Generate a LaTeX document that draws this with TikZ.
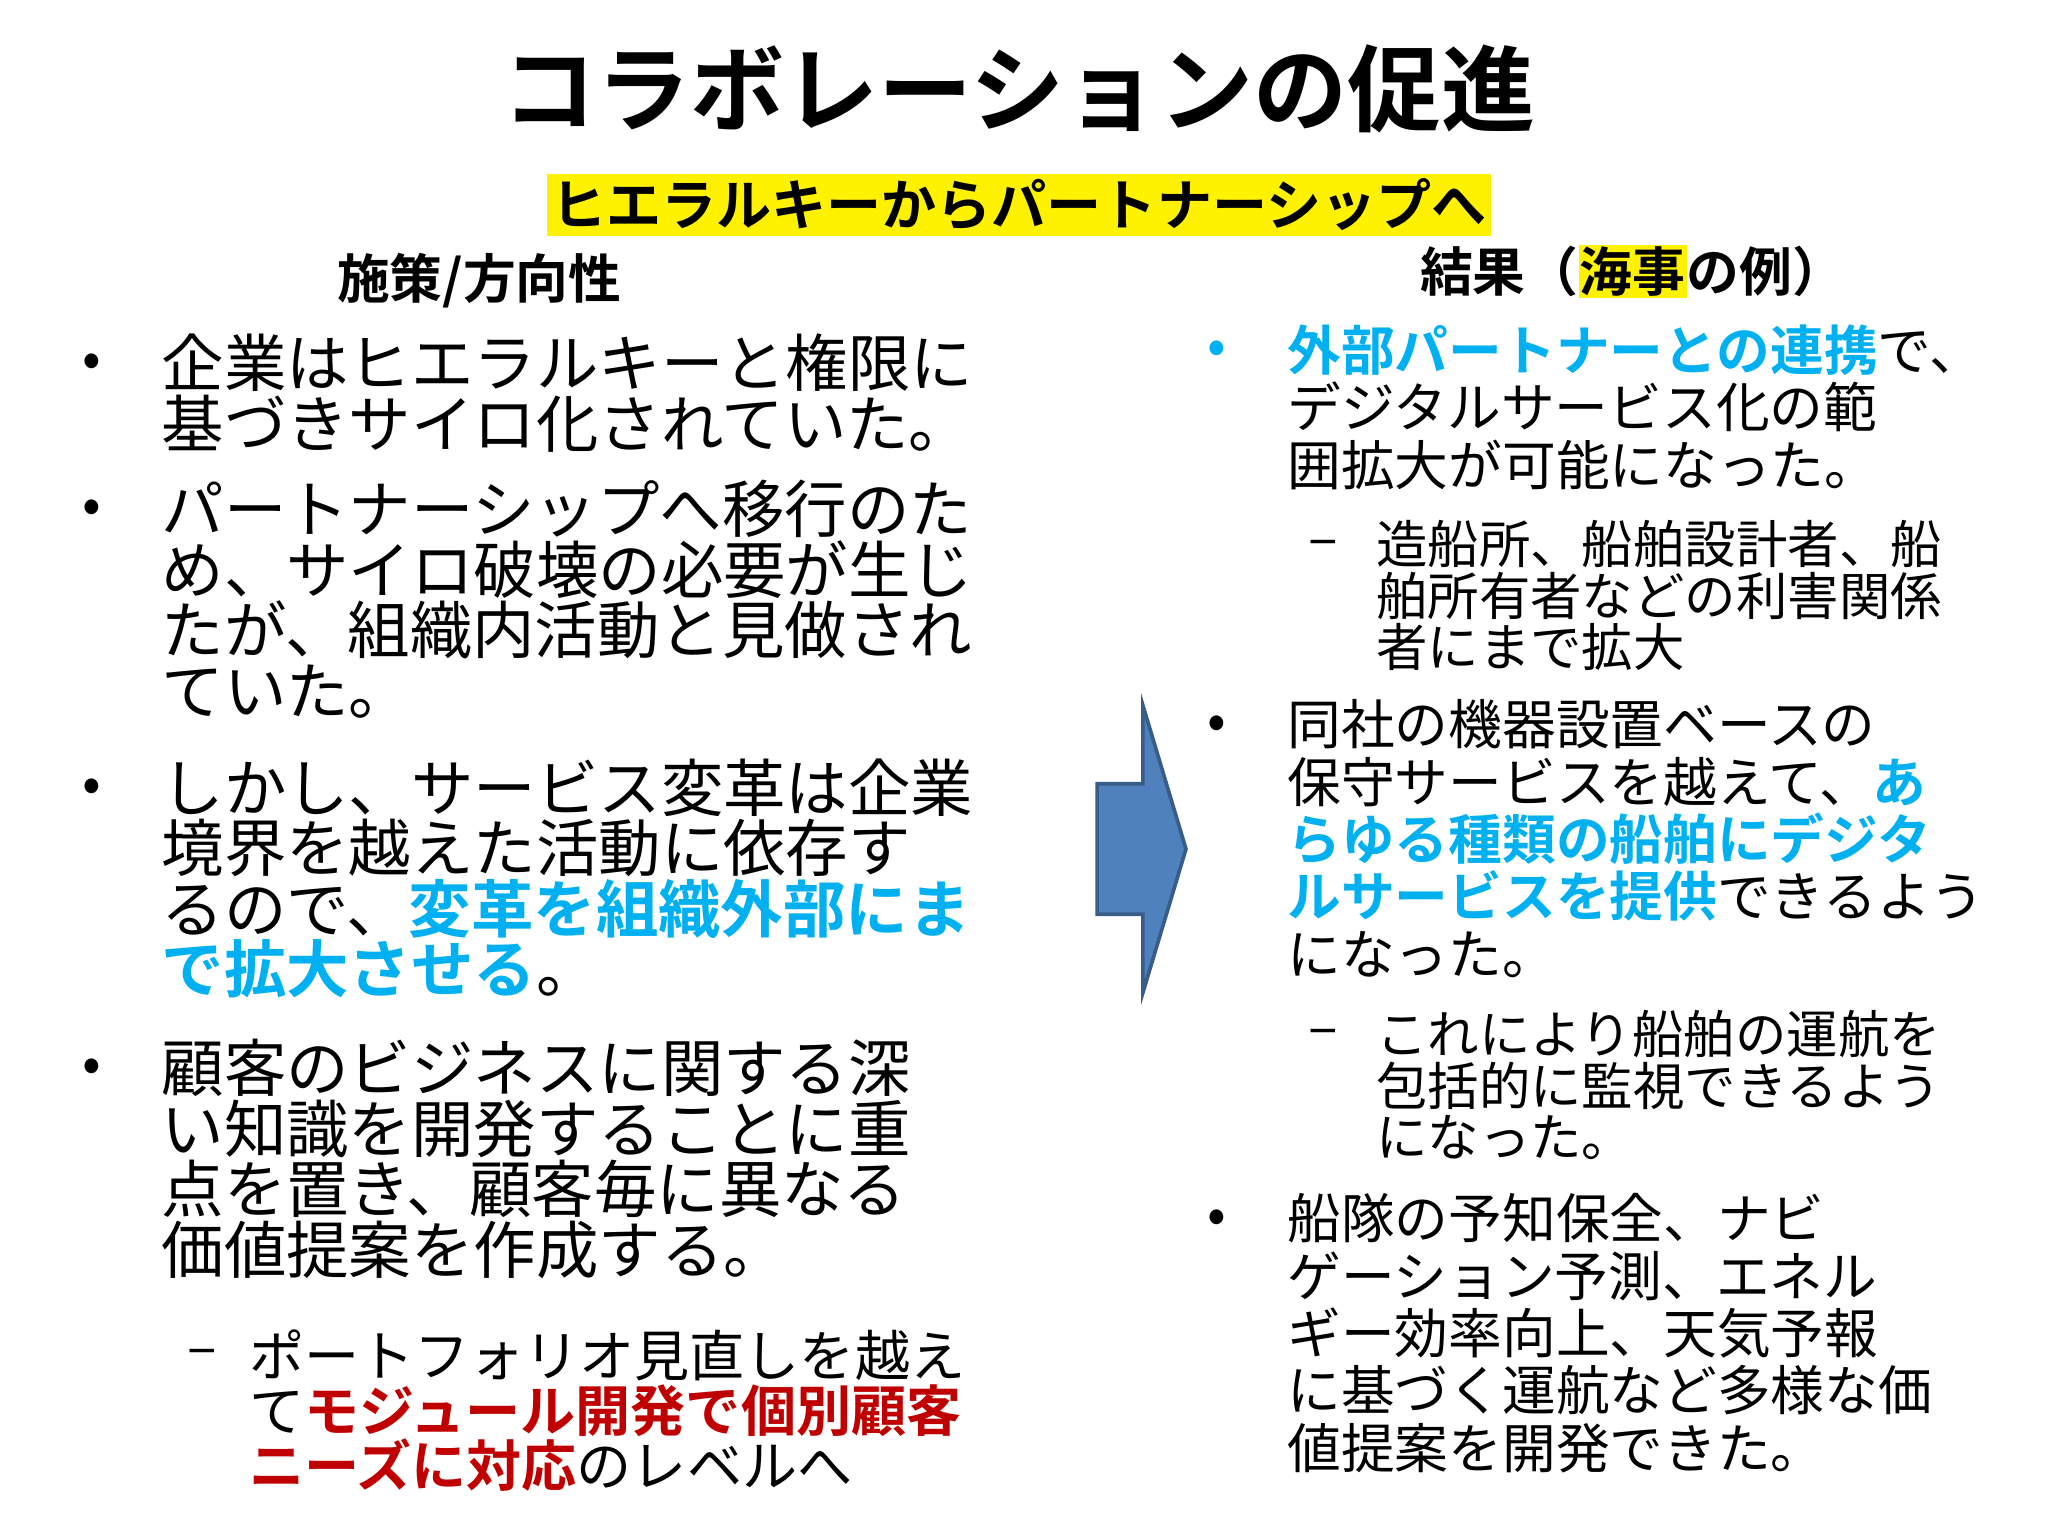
\documentclass[tikz,border=0pt]{standalone}
\usepackage{fontspec}
\setmainfont{Noto Sans CJK JP}[BoldFont={Noto Sans CJK JP Bold}]
\definecolor{cy}{RGB}{0,176,240}
\definecolor{dr}{RGB}{192,0,0}
\definecolor{ab}{RGB}{79,129,189}
\definecolor{abd}{RGB}{56,93,138}
\newcommand{\cb}[1]{\textcolor{cy}{\textbf{#1}}}
\newcommand{\rb}[1]{\textcolor{dr}{\textbf{#1}}}
\begin{document}
\begin{tikzpicture}[x=1cm,y=1cm,
 lp/.style={anchor=north west,inner sep=0,align=left,font=\fontsize{13.6}{13.2}\selectfont},
 ls/.style={anchor=north west,inner sep=0,align=left,font=\fontsize{12}{12}\selectfont},
 rp/.style={anchor=north west,inner sep=0,align=left,font=\fontsize{11.7}{12.5}\selectfont},
 rs/.style={anchor=north west,inner sep=0,align=left,font=\fontsize{11.2}{11.2}\selectfont},
 bul/.style={inner sep=0,font=\fontsize{12}{12}\selectfont},
 hd/.style={inner sep=0,font=\fontsize{11.5}{11.5}\selectfont\bfseries}]
\useasboundingbox (0,0) rectangle (15.68,-11.76);
\node[inner sep=0,font=\fontsize{20.5}{20}\selectfont\bfseries] (title) at (7.8,-0.68) {コラボレーションの促進};
\node[fill=yellow,inner xsep=1pt,inner ysep=1pt,font=\fontsize{12}{12}\selectfont\bfseries] (sub) at (7.8,-1.57) {ヒエラルキーからパートナーシップへ};
\node[hd] (h1) at (3.67,-2.15) {施策/方向性};
\node[hd] (h2) at (12.5,-2.08) {結果（{\setlength\fboxsep{0.3pt}\colorbox{yellow}{海事}}の例）};
% left
\node[bul] (b1) at (0.7,-2.8) {•};
\node[lp] (p1) at (1.23,-2.55) {企業はヒエラルキーと権限に\\基づきサイロ化されていた。};
\node[bul] (b2) at (0.7,-3.92) {•};
\node[lp] (p2) at (1.23,-3.67) {パートナーシップへ移行のた\\め、サイロ破壊の必要が生じ\\たが、組織内活動と見做され\\ていた。};
\node[bul] (b3) at (0.7,-6.05) {•};
\node[lp] (p3) at (1.23,-5.8) {しかし、サービス変革は企業\\境界を越えた活動に依存す\\るので、\cb{変革を組織外部にま}\\\cb{で拡大させる}。};
\node[bul] (b4) at (0.7,-8.2) {•};
\node[lp] (p4) at (1.23,-7.95) {顧客のビジネスに関する深\\い知識を開発することに重\\点を置き、顧客毎に異なる\\価値提案を作成する。};
\node[bul] (d1) at (1.55,-10.4) {–};
\node[ls] (s1) at (1.9,-10.17) {ポートフォリオ見直しを越え\\て\rb{モジュール開発で個別顧客}\\\rb{ニーズに対応}のレベルへ};
% arrow
\draw[fill=ab,draw=abd,line width=0.8pt] (8.4,-6.0) -- (8.75,-6.0) -- (8.75,-5.4) -- (9.08,-6.5) -- (8.75,-7.6) -- (8.75,-7.0) -- (8.4,-7.0) -- cycle;
% right
\node[bul,text=cy] (r1) at (9.32,-2.7) {•};
\node[rp] (q1) at (9.85,-2.48) {\cb{外部パートナーとの連携}で、\\デジタルサービス化の範\\囲拡大が可能になった。};
\node[bul] (e1) at (10.13,-4.2) {–};
\node[rs] (t1) at (10.53,-3.98) {造船所、船舶設計者、船\\舶所有者などの利害関係\\者にまで拡大};
\node[bul] (r2) at (9.32,-5.57) {•};
\node[rp] (q2) at (9.85,-5.35) {同社の機器設置ベースの\\保守サービスを越えて、\cb{あ}\\\cb{らゆる種類の船舶にデジタ}\\\cb{ルサービスを提供}できるよう\\になった。};
\node[bul] (e2) at (10.13,-7.95) {–};
\node[rs] (t2) at (10.53,-7.73) {これにより船舶の運航を\\包括的に監視できるよう\\になった。};
\node[bul] (r3) at (9.32,-9.35) {•};
\node[rp] (q3) at (9.85,-9.13) {船隊の予知保全、ナビ\\ゲーション予測、エネル\\ギー効率向上、天気予報\\に基づく運航など多様な価\\値提案を開発できた。};
\end{tikzpicture}
\end{document}
